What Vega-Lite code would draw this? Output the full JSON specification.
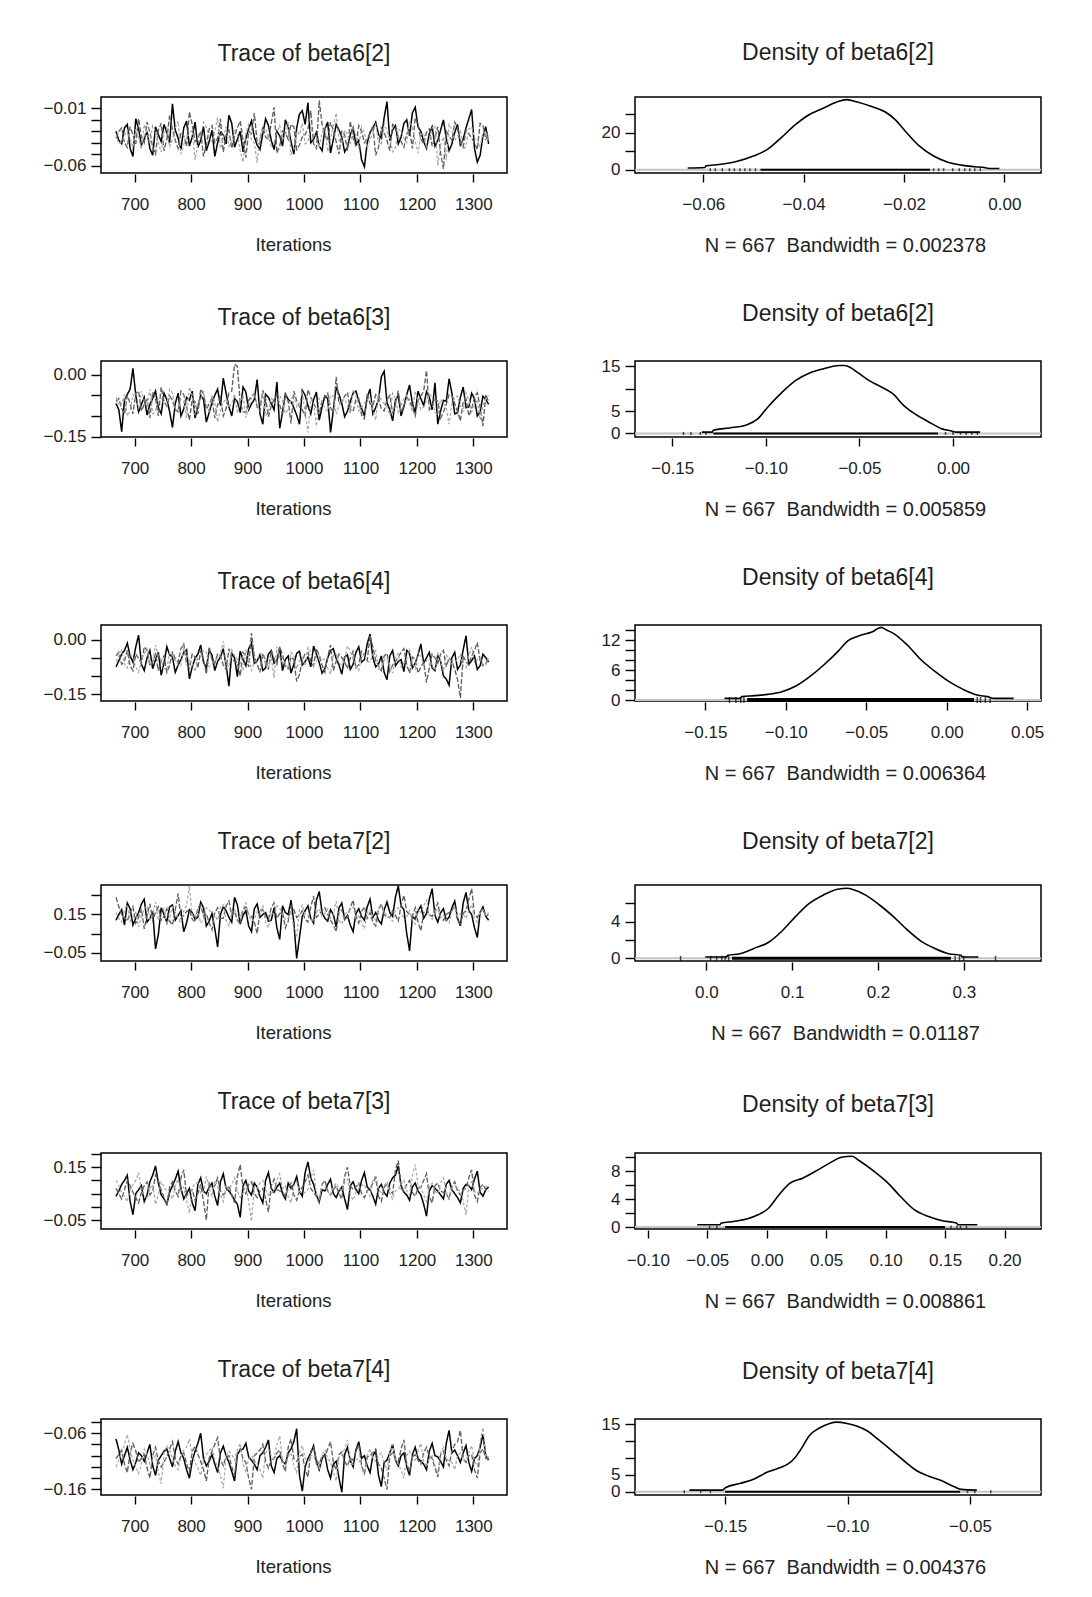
{"$schema":"https://vega.github.io/schema/vega-lite/v6.json","padding":{"left":0,"top":41,"right":0,"bottom":0},"background":"#ffffff",
"config":{"view":{"stroke":"#000000","strokeWidth":1.5},"title":{"font":"Liberation Sans","fontSize":23,"fontWeight":"normal","color":"#1e1e1e","anchor":"middle","frame":"group","offset":31,"baseline":"bottom"},
"axis":{"domain":false,"grid":false,"tickColor":"#000000","tickWidth":1.4,"labelFont":"Liberation Sans","labelFontSize":17,"labelColor":"#222222","titleFont":"Liberation Sans","titleFontSize":18.5,"titleFontWeight":"normal","titleColor":"#222222","labelOverlap":false,"labelFlush":false},
"axisX":{"tickSize":8,"offset":1,"labelPadding":14,"titlePadding":23},"axisY":{"tickSize":10,"labelPadding":5,"labelBaseline":"middle"}},
"datasets":{
"t1":[{"i":667,"a":-0.030,"b":-0.036,"c":-0.033},{"i":677,"a":-0.041,"b":-0.027,"c":-0.039},{"i":687,"a":-0.024,"b":-0.044,"c":-0.029},{"i":697,"a":-0.052,"b":-0.033,"c":-0.044},{"i":707,"a":-0.028,"b":-0.019,"c":-0.035},{"i":717,"a":-0.037,"b":-0.040,"c":-0.024},{"i":727,"a":-0.045,"b":-0.031,"c":-0.041},{"i":737,"a":-0.026,"b":-0.050,"c":-0.030},{"i":747,"a":-0.039,"b":-0.023,"c":-0.048},{"i":757,"a":-0.031,"b":-0.037,"c":-0.027},{"i":767,"a":-0.006,"b":-0.028,"c":-0.037},{"i":777,"a":-0.036,"b":-0.045,"c":-0.021},{"i":787,"a":-0.027,"b":-0.034,"c":-0.042},{"i":797,"a":-0.043,"b":-0.013,"c":-0.032},{"i":807,"a":-0.022,"b":-0.039,"c":-0.055},{"i":817,"a":-0.038,"b":-0.030,"c":-0.034},{"i":827,"a":-0.047,"b":-0.042,"c":-0.026},{"i":837,"a":-0.029,"b":-0.025,"c":-0.039},{"i":847,"a":-0.040,"b":-0.036,"c":-0.018},{"i":857,"a":-0.033,"b":-0.048,"c":-0.036},{"i":867,"a":-0.016,"b":-0.029,"c":-0.043},{"i":877,"a":-0.044,"b":-0.034,"c":-0.028},{"i":887,"a":-0.030,"b":-0.021,"c":-0.047},{"i":897,"a":-0.036,"b":-0.053,"c":-0.031},{"i":907,"a":-0.021,"b":-0.032,"c":-0.038},{"i":917,"a":-0.042,"b":-0.040,"c":-0.058},{"i":927,"a":-0.032,"b":-0.026,"c":-0.029},{"i":937,"a":-0.025,"b":-0.037,"c":-0.036},{"i":947,"a":-0.046,"b":-0.009,"c":-0.041},{"i":957,"a":-0.034,"b":-0.043,"c":-0.025},{"i":967,"a":-0.020,"b":-0.031,"c":-0.034},{"i":977,"a":-0.039,"b":-0.024,"c":-0.050},{"i":987,"a":-0.027,"b":-0.046,"c":-0.030},{"i":997,"a":-0.012,"b":-0.035,"c":-0.023},{"i":1007,"a":-0.005,"b":-0.028,"c":-0.039},{"i":1017,"a":-0.037,"b":-0.041,"c":-0.032},{"i":1027,"a":-0.043,"b":-0.003,"c":-0.044},{"i":1037,"a":-0.028,"b":-0.033,"c":-0.027},{"i":1047,"a":-0.049,"b":-0.022,"c":-0.036},{"i":1057,"a":-0.024,"b":-0.039,"c":-0.014},{"i":1067,"a":-0.035,"b":-0.030,"c":-0.040},{"i":1077,"a":-0.044,"b":-0.047,"c":-0.033},{"i":1087,"a":-0.027,"b":-0.036,"c":-0.026},{"i":1097,"a":-0.038,"b":-0.025,"c":-0.045},{"i":1107,"a":-0.061,"b":-0.040,"c":-0.031},{"i":1117,"a":-0.031,"b":-0.032,"c":-0.037},{"i":1127,"a":-0.022,"b":-0.051,"c":-0.023},{"i":1137,"a":-0.036,"b":-0.027,"c":-0.042},{"i":1147,"a":-0.004,"b":-0.038,"c":-0.030},{"i":1157,"a":-0.029,"b":-0.024,"c":-0.048},{"i":1167,"a":-0.041,"b":-0.035,"c":-0.028},{"i":1177,"a":-0.023,"b":-0.044,"c":-0.036},{"i":1187,"a":-0.034,"b":-0.029,"c":-0.021},{"i":1197,"a":-0.009,"b":-0.018,"c":-0.039},{"i":1207,"a":-0.030,"b":-0.037,"c":-0.033},{"i":1217,"a":-0.045,"b":-0.031,"c":-0.045},{"i":1227,"a":-0.026,"b":-0.043,"c":-0.027},{"i":1237,"a":-0.038,"b":-0.026,"c":-0.060},{"i":1247,"a":-0.020,"b":-0.063,"c":-0.035},{"i":1257,"a":-0.047,"b":-0.034,"c":-0.024},{"i":1267,"a":-0.031,"b":-0.022,"c":-0.038},{"i":1277,"a":-0.042,"b":-0.040,"c":-0.030},{"i":1287,"a":-0.027,"b":-0.029,"c":-0.043},{"i":1297,"a":-0.011,"b":-0.036,"c":-0.026},{"i":1307,"a":-0.057,"b":-0.046,"c":-0.037},{"i":1317,"a":-0.034,"b":-0.025,"c":-0.032},{"i":1327,"a":-0.041,"b":-0.033,"c":-0.040},
{"i":672,"a":-0.038,"b":-0.030,"c":-0.041},{"i":682,"a":-0.027,"b":-0.040,"c":-0.034},{"i":692,"a":-0.045,"b":-0.026,"c":-0.037},{"i":702,"a":-0.019,"b":-0.041,"c":-0.028},{"i":712,"a":-0.042,"b":-0.035,"c":-0.046},{"i":722,"a":-0.030,"b":-0.022,"c":-0.031},{"i":732,"a":-0.051,"b":-0.044,"c":-0.025},{"i":742,"a":-0.033,"b":-0.029,"c":-0.040},{"i":752,"a":-0.024,"b":-0.047,"c":-0.033},{"i":762,"a":-0.040,"b":-0.016,"c":-0.044},{"i":772,"a":-0.029,"b":-0.038,"c":-0.027},{"i":782,"a":-0.046,"b":-0.031,"c":-0.050},{"i":792,"a":-0.021,"b":-0.043,"c":-0.035},{"i":802,"a":-0.035,"b":-0.024,"c":-0.029},{"i":812,"a":-0.044,"b":-0.036,"c":-0.041},{"i":822,"a":-0.026,"b":-0.052,"c":-0.022},{"i":832,"a":-0.039,"b":-0.028,"c":-0.036},{"i":842,"a":-0.052,"b":-0.040,"c":-0.030},{"i":852,"a":-0.031,"b":-0.019,"c":-0.045},{"i":862,"a":-0.041,"b":-0.033,"c":-0.026},{"i":872,"a":-0.023,"b":-0.045,"c":-0.039},{"i":882,"a":-0.037,"b":-0.027,"c":-0.032},{"i":892,"a":-0.048,"b":-0.038,"c":-0.057},{"i":902,"a":-0.028,"b":-0.030,"c":-0.024},{"i":912,"a":-0.035,"b":-0.014,"c":-0.040},{"i":922,"a":-0.046,"b":-0.041,"c":-0.034},{"i":932,"a":-0.019,"b":-0.035,"c":-0.028},{"i":942,"a":-0.038,"b":-0.023,"c":-0.043},{"i":952,"a":-0.030,"b":-0.049,"c":-0.031},{"i":962,"a":-0.043,"b":-0.030,"c":-0.037},{"i":972,"a":-0.026,"b":-0.037,"c":-0.022},{"i":982,"a":-0.050,"b":-0.026,"c":-0.046},{"i":992,"a":-0.015,"b":-0.042,"c":-0.033},{"i":1002,"a":-0.024,"b":-0.033,"c":-0.041},{"i":1012,"a":-0.040,"b":-0.012,"c":-0.027},{"i":1022,"a":-0.031,"b":-0.045,"c":-0.036},{"i":1032,"a":-0.047,"b":-0.024,"c":-0.031},{"i":1042,"a":-0.022,"b":-0.038,"c":-0.048},{"i":1052,"a":-0.037,"b":-0.029,"c":-0.025},{"i":1062,"a":-0.029,"b":-0.050,"c":-0.038},{"i":1072,"a":-0.048,"b":-0.033,"c":-0.029},{"i":1082,"a":-0.033,"b":-0.021,"c":-0.042},{"i":1092,"a":-0.042,"b":-0.043,"c":-0.034},{"i":1102,"a":-0.055,"b":-0.030,"c":-0.026},{"i":1112,"a":-0.040,"b":-0.037,"c":-0.045},{"i":1122,"a":-0.027,"b":-0.025,"c":-0.032},{"i":1132,"a":-0.033,"b":-0.044,"c":-0.039},{"i":1142,"a":-0.018,"b":-0.031,"c":-0.023},{"i":1152,"a":-0.038,"b":-0.047,"c":-0.036},{"i":1162,"a":-0.025,"b":-0.026,"c":-0.044},{"i":1172,"a":-0.035,"b":-0.039,"c":-0.030},{"i":1182,"a":-0.020,"b":-0.032,"c":-0.040},{"i":1192,"a":-0.014,"b":-0.045,"c":-0.027},{"i":1202,"a":-0.026,"b":-0.024,"c":-0.049},{"i":1212,"a":-0.039,"b":-0.041,"c":-0.031},{"i":1222,"a":-0.032,"b":-0.028,"c":-0.038},{"i":1232,"a":-0.043,"b":-0.036,"c":-0.025},{"i":1242,"a":-0.029,"b":-0.049,"c":-0.042},{"i":1252,"a":-0.036,"b":-0.030,"c":-0.055},{"i":1262,"a":-0.041,"b":-0.038,"c":-0.029},{"i":1272,"a":-0.024,"b":-0.027,"c":-0.034},{"i":1282,"a":-0.037,"b":-0.044,"c":-0.046},{"i":1292,"a":-0.019,"b":-0.032,"c":-0.028},{"i":1302,"a":-0.045,"b":-0.040,"c":-0.036},{"i":1312,"a":-0.051,"b":-0.023,"c":-0.043},{"i":1322,"a":-0.026,"b":-0.037,"c":-0.030}],
"t2":[{"i":667,"a":-0.070,"b":-0.065,"c":-0.055},{"i":677,"a":-0.138,"b":-0.082,"c":-0.070},{"i":687,"a":-0.048,"b":-0.050,"c":-0.100},{"i":697,"a":0.015,"b":-0.095,"c":-0.048},{"i":707,"a":-0.090,"b":-0.040,"c":-0.080},{"i":717,"a":-0.055,"b":-0.072,"c":-0.062},{"i":727,"a":-0.072,"b":-0.105,"c":-0.036},{"i":737,"a":-0.040,"b":-0.058,"c":-0.090},{"i":747,"a":-0.095,"b":-0.030,"c":-0.058},{"i":757,"a":-0.060,"b":-0.076,"c":-0.074},{"i":767,"a":-0.128,"b":-0.062,"c":-0.045},{"i":777,"a":-0.045,"b":-0.090,"c":-0.086},{"i":787,"a":-0.083,"b":-0.048,"c":-0.065},{"i":797,"a":-0.062,"b":-0.110,"c":-0.030},{"i":807,"a":-0.105,"b":-0.066,"c":-0.098},{"i":817,"a":-0.050,"b":-0.035,"c":-0.060},{"i":827,"a":-0.115,"b":-0.084,"c":-0.072},{"i":837,"a":-0.068,"b":-0.057,"c":-0.052},{"i":847,"a":-0.035,"b":-0.073,"c":-0.115},{"i":857,"a":-0.009,"b":-0.100,"c":-0.068},{"i":867,"a":-0.078,"b":-0.044,"c":-0.080},{"i":877,"a":-0.058,"b":0.025,"c":-0.047},{"i":887,"a":-0.092,"b":-0.068,"c":-0.063},{"i":897,"a":-0.042,"b":-0.091,"c":-0.104},{"i":907,"a":-0.071,"b":-0.053,"c":-0.056},{"i":917,"a":-0.012,"b":-0.079,"c":-0.075},{"i":927,"a":-0.120,"b":-0.038,"c":-0.042},{"i":937,"a":-0.055,"b":-0.102,"c":-0.088},{"i":947,"a":-0.085,"b":-0.061,"c":-0.066},{"i":957,"a":-0.130,"b":-0.074,"c":-0.051},{"i":967,"a":-0.047,"b":-0.047,"c":-0.094},{"i":977,"a":-0.066,"b":-0.118,"c":-0.060},{"i":987,"a":-0.098,"b":-0.063,"c":-0.078},{"i":997,"a":-0.038,"b":-0.085,"c":-0.040},{"i":1007,"a":-0.075,"b":-0.036,"c":-0.140},{"i":1017,"a":-0.060,"b":-0.070,"c":-0.070},{"i":1027,"a":-0.110,"b":-0.095,"c":-0.057},{"i":1037,"a":-0.052,"b":-0.054,"c":-0.082},{"i":1047,"a":-0.140,"b":-0.080,"c":-0.049},{"i":1057,"a":-0.030,"b":-0.005,"c":-0.096},{"i":1067,"a":-0.070,"b":-0.066,"c":-0.062},{"i":1077,"a":-0.088,"b":-0.043,"c":-0.075},{"i":1087,"a":-0.045,"b":-0.089,"c":-0.036},{"i":1097,"a":-0.063,"b":-0.058,"c":-0.088},{"i":1107,"a":-0.100,"b":-0.107,"c":-0.068},{"i":1117,"a":-0.035,"b":-0.071,"c":-0.054},{"i":1127,"a":-0.080,"b":-0.049,"c":-0.110},{"i":1137,"a":-0.005,"b":-0.083,"c":-0.061},{"i":1147,"a":-0.068,"b":-0.060,"c":-0.079},{"i":1157,"a":-0.112,"b":-0.094,"c":-0.045},{"i":1167,"a":-0.050,"b":-0.039,"c":-0.092},{"i":1177,"a":-0.077,"b":-0.075,"c":-0.058},{"i":1187,"a":-0.025,"b":-0.062,"c":-0.071},{"i":1197,"a":-0.092,"b":-0.100,"c":-0.040},{"i":1207,"a":-0.058,"b":-0.052,"c":-0.084},{"i":1217,"a":-0.041,"b":0.010,"c":-0.063},{"i":1227,"a":-0.085,"b":-0.078,"c":-0.052},{"i":1237,"a":-0.120,"b":-0.064,"c":-0.098},{"i":1247,"a":-0.062,"b":-0.090,"c":-0.069},{"i":1257,"a":-0.010,"b":-0.048,"c":-0.120},{"i":1267,"a":-0.095,"b":-0.070,"c":-0.057},{"i":1277,"a":-0.055,"b":-0.112,"c":-0.076},{"i":1287,"a":-0.080,"b":-0.058,"c":-0.044},{"i":1297,"a":-0.045,"b":-0.082,"c":-0.090},{"i":1307,"a":-0.100,"b":-0.044,"c":-0.061},{"i":1317,"a":-0.052,"b":-0.125,"c":-0.074},{"i":1327,"a":-0.072,"b":-0.066,"c":-0.050},
{"i":672,"a":-0.085,"b":-0.058,"c":-0.075},{"i":682,"a":-0.062,"b":-0.095,"c":-0.048},{"i":692,"a":-0.035,"b":-0.070,"c":-0.088},{"i":702,"a":-0.050,"b":-0.045,"c":-0.062},{"i":712,"a":-0.072,"b":-0.088,"c":-0.040},{"i":722,"a":-0.098,"b":-0.060,"c":-0.078},{"i":732,"a":-0.058,"b":-0.042,"c":-0.095},{"i":742,"a":-0.080,"b":-0.100,"c":-0.055},{"i":752,"a":-0.045,"b":-0.065,"c":-0.070},{"i":762,"a":-0.090,"b":-0.052,"c":-0.035},{"i":772,"a":-0.070,"b":-0.085,"c":-0.082},{"i":782,"a":-0.100,"b":-0.040,"c":-0.060},{"i":792,"a":-0.055,"b":-0.078,"c":-0.105},{"i":802,"a":-0.040,"b":-0.060,"c":-0.050},{"i":812,"a":-0.078,"b":-0.095,"c":-0.072},{"i":822,"a":-0.060,"b":-0.048,"c":-0.042},{"i":832,"a":-0.092,"b":-0.070,"c":-0.088},{"i":842,"a":-0.050,"b":-0.105,"c":-0.065},{"i":852,"a":-0.075,"b":-0.055,"c":-0.085},{"i":862,"a":-0.045,"b":-0.082,"c":-0.058},{"i":872,"a":-0.100,"b":-0.040,"c":-0.070},{"i":882,"a":-0.065,"b":0.020,"c":-0.092},{"i":892,"a":-0.030,"b":-0.090,"c":-0.052},{"i":902,"a":-0.085,"b":-0.062,"c":-0.080},{"i":912,"a":-0.060,"b":-0.045,"c":-0.045},{"i":922,"a":-0.095,"b":-0.088,"c":-0.068},{"i":932,"a":-0.048,"b":-0.058,"c":-0.100},{"i":942,"a":-0.070,"b":-0.075,"c":-0.055},{"i":952,"a":-0.018,"b":-0.048,"c":-0.075},{"i":962,"a":-0.090,"b":-0.095,"c":-0.062},{"i":972,"a":-0.060,"b":-0.065,"c":-0.085},{"i":982,"a":-0.080,"b":-0.040,"c":-0.048},{"i":992,"a":-0.120,"b":-0.078,"c":-0.070},{"i":1002,"a":-0.050,"b":-0.100,"c":-0.095},{"i":1012,"a":-0.095,"b":-0.055,"c":-0.058},{"i":1022,"a":-0.042,"b":-0.082,"c":-0.125},{"i":1032,"a":-0.078,"b":-0.062,"c":-0.066},{"i":1042,"a":-0.058,"b":-0.045,"c":-0.088},{"i":1052,"a":-0.085,"b":-0.092,"c":-0.052},{"i":1062,"a":-0.048,"b":-0.070,"c":-0.075},{"i":1072,"a":-0.102,"b":-0.052,"c":-0.060},{"i":1082,"a":-0.065,"b":-0.085,"c":-0.095},{"i":1092,"a":-0.040,"b":-0.060,"c":-0.050},{"i":1102,"a":-0.082,"b":-0.098,"c":-0.080},{"i":1112,"a":-0.055,"b":-0.045,"c":-0.062},{"i":1122,"a":-0.095,"b":-0.075,"c":-0.085},{"i":1132,"a":-0.060,"b":-0.058,"c":-0.045},{"i":1142,"a":0.008,"b":-0.088,"c":-0.070},{"i":1152,"a":-0.085,"b":-0.050,"c":-0.098},{"i":1162,"a":-0.062,"b":-0.072,"c":-0.058},{"i":1172,"a":-0.100,"b":-0.092,"c":-0.075},{"i":1182,"a":-0.048,"b":-0.055,"c":-0.050},{"i":1192,"a":-0.070,"b":-0.080,"c":-0.088},{"i":1202,"a":-0.040,"b":-0.062,"c":-0.062},{"i":1212,"a":-0.075,"b":-0.040,"c":-0.078},{"i":1222,"a":-0.055,"b":-0.085,"c":-0.048},{"i":1232,"a":-0.020,"b":-0.060,"c":-0.092},{"i":1242,"a":-0.088,"b":-0.105,"c":-0.060},{"i":1252,"a":-0.065,"b":-0.072,"c":-0.082},{"i":1262,"a":-0.045,"b":-0.050,"c":-0.070},{"i":1272,"a":-0.092,"b":-0.090,"c":-0.052},{"i":1282,"a":-0.030,"b":-0.065,"c":-0.088},{"i":1292,"a":-0.078,"b":-0.100,"c":-0.062},{"i":1302,"a":-0.058,"b":-0.055,"c":-0.075},{"i":1312,"a":-0.090,"b":-0.078,"c":-0.110},{"i":1322,"a":-0.060,"b":-0.048,"c":-0.058}],
"t3":[{"i":667,"a":-0.075,"b":-0.045,"c":-0.060},{"i":677,"a":-0.040,"b":-0.068,"c":-0.030},{"i":687,"a":-0.010,"b":-0.030,"c":-0.078},{"i":697,"a":-0.062,"b":-0.085,"c":-0.050},{"i":707,"a":0.012,"b":-0.052,"c":-0.090},{"i":717,"a":-0.085,"b":-0.020,"c":-0.038},{"i":727,"a":-0.030,"b":-0.072,"c":-0.065},{"i":737,"a":-0.055,"b":-0.040,"c":-0.015},{"i":747,"a":-0.098,"b":-0.058,"c":-0.055},{"i":757,"a":-0.020,"b":-0.090,"c":-0.082},{"i":767,"a":-0.048,"b":-0.035,"c":-0.042},{"i":777,"a":-0.070,"b":-0.062,"c":-0.070},{"i":787,"a":-0.035,"b":-0.012,"c":-0.025},{"i":797,"a":-0.108,"b":-0.078,"c":-0.058},{"i":807,"a":-0.052,"b":-0.048,"c":-0.088},{"i":817,"a":-0.015,"b":-0.030,"c":-0.048},{"i":827,"a":-0.078,"b":-0.095,"c":-0.035},{"i":837,"a":-0.042,"b":-0.055,"c":-0.068},{"i":847,"a":-0.060,"b":-0.040,"c":-0.052},{"i":857,"a":-0.025,"b":-0.070,"c":-0.005},{"i":867,"a":-0.128,"b":-0.025,"c":-0.075},{"i":877,"a":-0.050,"b":-0.060,"c":-0.045},{"i":887,"a":-0.032,"b":-0.100,"c":-0.062},{"i":897,"a":-0.072,"b":-0.045,"c":-0.030},{"i":907,"a":-0.010,"b":0.018,"c":-0.085},{"i":917,"a":-0.058,"b":-0.068,"c":-0.055},{"i":927,"a":-0.085,"b":-0.038,"c":-0.040},{"i":937,"a":-0.040,"b":-0.082,"c":-0.072},{"i":947,"a":-0.065,"b":-0.052,"c":-0.105},{"i":957,"a":-0.022,"b":-0.020,"c":-0.048},{"i":967,"a":-0.055,"b":-0.075,"c":-0.062},{"i":977,"a":-0.092,"b":-0.048,"c":-0.035},{"i":987,"a":-0.038,"b":-0.115,"c":-0.080},{"i":997,"a":-0.070,"b":-0.058,"c":-0.050},{"i":1007,"a":-0.048,"b":-0.035,"c":-0.022},{"i":1017,"a":-0.018,"b":-0.072,"c":-0.068},{"i":1027,"a":-0.063,"b":-0.044,"c":-0.045},{"i":1037,"a":-0.080,"b":-0.090,"c":-0.058},{"i":1047,"a":-0.030,"b":-0.015,"c":-0.095},{"i":1057,"a":-0.052,"b":-0.060,"c":-0.040},{"i":1067,"a":-0.095,"b":-0.050,"c":-0.070},{"i":1077,"a":-0.042,"b":-0.080,"c":-0.018},{"i":1087,"a":-0.068,"b":-0.032,"c":-0.055},{"i":1097,"a":-0.020,"b":-0.068,"c":-0.085},{"i":1107,"a":-0.055,"b":-0.042,"c":-0.042},{"i":1117,"a":0.015,"b":0.012,"c":-0.062},{"i":1127,"a":-0.075,"b":-0.058,"c":-0.030},{"i":1137,"a":-0.045,"b":-0.085,"c":-0.075},{"i":1147,"a":-0.110,"b":-0.038,"c":-0.050},{"i":1157,"a":-0.030,"b":-0.070,"c":-0.092},{"i":1167,"a":-0.060,"b":-0.048,"c":-0.038},{"i":1177,"a":-0.088,"b":-0.025,"c":-0.065},{"i":1187,"a":-0.038,"b":-0.092,"c":-0.028},{"i":1197,"a":-0.065,"b":-0.055,"c":-0.080},{"i":1207,"a":-0.012,"b":-0.075,"c":-0.045},{"i":1217,"a":-0.050,"b":-0.118,"c":-0.058},{"i":1227,"a":-0.078,"b":-0.040,"c":-0.072},{"i":1237,"a":-0.042,"b":-0.065,"c":-0.035},{"i":1247,"a":-0.100,"b":-0.030,"c":-0.088},{"i":1257,"a":-0.125,"b":-0.050,"c":-0.052},{"i":1267,"a":-0.035,"b":-0.082,"c":-0.062},{"i":1277,"a":-0.070,"b":-0.160,"c":-0.040},{"i":1287,"a":0.010,"b":-0.062,"c":-0.078},{"i":1297,"a":-0.058,"b":-0.045,"c":-0.020},{"i":1307,"a":-0.082,"b":-0.008,"c":-0.055},{"i":1317,"a":-0.040,"b":-0.072,"c":-0.068},{"i":1327,"a":-0.062,"b":-0.052,"c":-0.045},
{"i":672,"a":-0.058,"b":-0.035,"c":-0.045},{"i":682,"a":-0.030,"b":-0.058,"c":-0.068},{"i":692,"a":-0.045,"b":-0.072,"c":-0.040},{"i":702,"a":-0.020,"b":-0.040,"c":-0.075},{"i":712,"a":-0.068,"b":-0.065,"c":-0.055},{"i":722,"a":-0.050,"b":-0.030,"c":-0.025},{"i":732,"a":-0.080,"b":-0.060,"c":-0.062},{"i":742,"a":-0.035,"b":-0.085,"c":-0.045},{"i":752,"a":-0.065,"b":-0.045,"c":-0.080},{"i":762,"a":-0.042,"b":-0.070,"c":-0.035},{"i":772,"a":-0.090,"b":-0.052,"c":-0.058},{"i":782,"a":-0.055,"b":-0.025,"c":-0.072},{"i":792,"a":-0.028,"b":-0.068,"c":-0.040},{"i":802,"a":-0.075,"b":-0.040,"c":-0.065},{"i":812,"a":-0.040,"b":-0.078,"c":-0.050},{"i":822,"a":-0.062,"b":-0.055,"c":-0.030},{"i":832,"a":-0.030,"b":-0.020,"c":-0.075},{"i":842,"a":-0.085,"b":-0.065,"c":-0.058},{"i":852,"a":-0.048,"b":-0.045,"c":-0.040},{"i":862,"a":-0.070,"b":-0.082,"c":-0.068},{"i":872,"a":-0.038,"b":-0.050,"c":-0.028},{"i":882,"a":-0.102,"b":-0.062,"c":-0.055},{"i":892,"a":-0.055,"b":-0.035,"c":-0.085},{"i":902,"a":-0.025,"b":-0.075,"c":-0.048},{"i":912,"a":-0.065,"b":-0.048,"c":-0.062},{"i":922,"a":-0.042,"b":-0.090,"c":-0.038},{"i":932,"a":-0.078,"b":-0.058,"c":-0.070},{"i":942,"a":-0.030,"b":-0.030,"c":-0.052},{"i":952,"a":-0.058,"b":-0.068,"c":-0.020},{"i":962,"a":-0.085,"b":-0.042,"c":-0.065},{"i":972,"a":-0.045,"b":-0.080,"c":-0.080},{"i":982,"a":-0.068,"b":-0.055,"c":-0.045},{"i":992,"a":-0.032,"b":-0.095,"c":-0.058},{"i":1002,"a":-0.060,"b":-0.038,"c":-0.072},{"i":1012,"a":-0.075,"b":-0.060,"c":-0.035},{"i":1022,"a":-0.040,"b":-0.025,"c":-0.062},{"i":1032,"a":-0.092,"b":-0.070,"c":-0.050},{"i":1042,"a":-0.050,"b":-0.048,"c":-0.078},{"i":1052,"a":-0.025,"b":-0.085,"c":-0.042},{"i":1062,"a":-0.070,"b":-0.040,"c":-0.065},{"i":1072,"a":-0.048,"b":-0.062,"c":-0.055},{"i":1082,"a":-0.082,"b":-0.050,"c":-0.030},{"i":1092,"a":-0.035,"b":-0.078,"c":-0.075},{"i":1102,"a":-0.062,"b":-0.032,"c":-0.048},{"i":1112,"a":-0.012,"b":-0.058,"c":-0.060},{"i":1122,"a":-0.050,"b":-0.020,"c":-0.040},{"i":1132,"a":-0.068,"b":-0.072,"c":-0.082},{"i":1142,"a":-0.090,"b":-0.045,"c":-0.058},{"i":1152,"a":-0.045,"b":-0.088,"c":-0.068},{"i":1162,"a":-0.072,"b":-0.060,"c":-0.045},{"i":1172,"a":-0.055,"b":-0.035,"c":-0.075},{"i":1182,"a":-0.030,"b":-0.070,"c":-0.052},{"i":1192,"a":-0.078,"b":-0.048,"c":-0.062},{"i":1202,"a":-0.042,"b":-0.092,"c":-0.035},{"i":1212,"a":-0.065,"b":-0.062,"c":-0.070},{"i":1222,"a":-0.035,"b":-0.078,"c":-0.050},{"i":1232,"a":-0.085,"b":-0.050,"c":-0.085},{"i":1242,"a":-0.060,"b":-0.040,"c":-0.058},{"i":1252,"a":-0.108,"b":-0.075,"c":-0.042},{"i":1262,"a":-0.050,"b":-0.060,"c":-0.068},{"i":1272,"a":-0.082,"b":-0.110,"c":-0.055},{"i":1282,"a":-0.028,"b":-0.045,"c":-0.072},{"i":1292,"a":-0.068,"b":-0.070,"c":-0.045},{"i":1302,"a":-0.045,"b":-0.030,"c":-0.062},{"i":1312,"a":-0.072,"b":-0.058,"c":-0.050},{"i":1322,"a":-0.050,"b":-0.065,"c":-0.070}],
"t4":[{"i":667,"a":0.120,"b":0.240,"c":0.160},{"i":677,"a":0.175,"b":0.150,"c":0.110},{"i":687,"a":0.210,"b":0.115,"c":0.200},{"i":697,"a":0.095,"b":0.190,"c":0.140},{"i":707,"a":0.160,"b":0.135,"c":0.085},{"i":717,"a":0.230,"b":0.075,"c":0.180},{"i":727,"a":0.130,"b":0.205,"c":0.125},{"i":737,"a":-0.030,"b":0.160,"c":0.215},{"i":747,"a":0.185,"b":0.120,"c":0.150},{"i":757,"a":0.110,"b":0.180,"c":0.100},{"i":767,"a":0.200,"b":0.095,"c":0.190},{"i":777,"a":0.145,"b":0.260,"c":0.130},{"i":787,"a":0.060,"b":0.145,"c":0.170},{"i":797,"a":0.175,"b":0.175,"c":0.300},{"i":807,"a":0.125,"b":0.110,"c":0.145},{"i":817,"a":0.215,"b":0.200,"c":0.105},{"i":827,"a":0.090,"b":0.155,"c":0.185},{"i":837,"a":0.155,"b":0.070,"c":0.160},{"i":847,"a":-0.020,"b":0.185,"c":0.120},{"i":857,"a":0.190,"b":0.130,"c":0.200},{"i":867,"a":0.135,"b":0.220,"c":0.090},{"i":877,"a":0.240,"b":0.165,"c":0.175},{"i":887,"a":0.100,"b":0.100,"c":0.140},{"i":897,"a":0.170,"b":0.190,"c":0.210},{"i":907,"a":0.060,"b":0.140,"c":0.115},{"i":917,"a":0.205,"b":0.050,"c":0.165},{"i":927,"a":0.150,"b":0.175,"c":0.195},{"i":937,"a":0.115,"b":0.125,"c":0.080},{"i":947,"a":0.185,"b":0.210,"c":0.150},{"i":957,"a":0.020,"b":0.155,"c":0.185},{"i":967,"a":0.160,"b":0.080,"c":0.125},{"i":977,"a":0.225,"b":0.195,"c":0.170},{"i":987,"a":-0.080,"b":0.135,"c":0.035},{"i":997,"a":0.140,"b":0.170,"c":0.200},{"i":1007,"a":0.195,"b":0.110,"c":0.145},{"i":1017,"a":0.105,"b":0.245,"c":0.110},{"i":1027,"a":0.270,"b":0.150,"c":0.180},{"i":1037,"a":0.130,"b":0.185,"c":0.155},{"i":1047,"a":0.175,"b":0.120,"c":0.130},{"i":1057,"a":0.085,"b":0.060,"c":0.220},{"i":1067,"a":0.210,"b":0.175,"c":0.100},{"i":1077,"a":0.145,"b":0.140,"c":0.165},{"i":1087,"a":0.060,"b":0.225,"c":0.190},{"i":1097,"a":0.180,"b":0.105,"c":0.140},{"i":1107,"a":0.120,"b":0.190,"c":0.075},{"i":1117,"a":0.230,"b":0.160,"c":0.175},{"i":1127,"a":0.160,"b":0.090,"c":0.120},{"i":1137,"a":0.100,"b":0.205,"c":0.205},{"i":1147,"a":0.215,"b":0.135,"c":0.150},{"i":1157,"a":0.140,"b":0.170,"c":0.115},{"i":1167,"a":0.300,"b":0.115,"c":0.185},{"i":1177,"a":0.175,"b":0.250,"c":0.135},{"i":1187,"a":-0.040,"b":0.150,"c":0.170},{"i":1197,"a":0.125,"b":0.185,"c":0.100},{"i":1207,"a":0.195,"b":0.065,"c":0.160},{"i":1217,"a":0.155,"b":0.175,"c":0.225},{"i":1227,"a":0.285,"b":0.140,"c":0.125},{"i":1237,"a":0.110,"b":0.210,"c":0.180},{"i":1247,"a":0.180,"b":0.120,"c":0.145},{"i":1257,"a":0.135,"b":0.160,"c":0.105},{"i":1267,"a":0.220,"b":0.195,"c":0.190},{"i":1277,"a":0.090,"b":0.100,"c":0.155},{"i":1287,"a":0.265,"b":0.170,"c":0.130},{"i":1297,"a":0.150,"b":0.285,"c":0.200},{"i":1307,"a":0.030,"b":0.135,"c":0.110},{"i":1317,"a":0.190,"b":0.180,"c":0.175},{"i":1327,"a":0.120,"b":0.150,"c":0.160},
{"i":672,"a":0.150,"b":0.190,"c":0.130},{"i":682,"a":0.095,"b":0.135,"c":0.175},{"i":692,"a":0.180,"b":0.160,"c":0.115},{"i":702,"a":0.130,"b":0.105,"c":0.160},{"i":712,"a":0.205,"b":0.180,"c":0.140},{"i":722,"a":0.110,"b":0.145,"c":0.195},{"i":732,"a":0.165,"b":0.120,"c":0.150},{"i":742,"a":0.045,"b":0.190,"c":0.120},{"i":752,"a":0.150,"b":0.140,"c":0.180},{"i":762,"a":0.190,"b":0.115,"c":0.135},{"i":772,"a":0.120,"b":0.175,"c":0.160},{"i":782,"a":0.170,"b":0.130,"c":0.105},{"i":792,"a":0.105,"b":0.165,"c":0.195},{"i":802,"a":0.160,"b":0.125,"c":0.140},{"i":812,"a":0.135,"b":0.185,"c":0.170},{"i":822,"a":0.185,"b":0.140,"c":0.125},{"i":832,"a":0.115,"b":0.105,"c":0.175},{"i":842,"a":0.075,"b":0.160,"c":0.145},{"i":852,"a":0.150,"b":0.130,"c":0.190},{"i":862,"a":0.170,"b":0.195,"c":0.120},{"i":872,"a":0.110,"b":0.145,"c":0.160},{"i":882,"a":0.200,"b":0.120,"c":0.135},{"i":892,"a":0.145,"b":0.175,"c":0.180},{"i":902,"a":0.090,"b":0.150,"c":0.150},{"i":912,"a":0.180,"b":0.110,"c":0.125},{"i":922,"a":0.135,"b":0.165,"c":0.170},{"i":932,"a":0.160,"b":0.140,"c":0.110},{"i":942,"a":0.120,"b":0.185,"c":0.160},{"i":952,"a":0.080,"b":0.130,"c":0.195},{"i":962,"a":0.195,"b":0.160,"c":0.145},{"i":972,"a":0.150,"b":0.115,"c":0.130},{"i":982,"a":0.110,"b":0.175,"c":0.080},{"i":992,"a":0.030,"b":0.145,"c":0.175},{"i":1002,"a":0.170,"b":0.125,"c":0.150},{"i":1012,"a":0.130,"b":0.190,"c":0.125},{"i":1022,"a":0.225,"b":0.135,"c":0.165},{"i":1032,"a":0.160,"b":0.170,"c":0.140},{"i":1042,"a":0.115,"b":0.150,"c":0.180},{"i":1052,"a":0.150,"b":0.095,"c":0.150},{"i":1062,"a":0.185,"b":0.160,"c":0.120},{"i":1072,"a":0.125,"b":0.120,"c":0.145},{"i":1082,"a":0.095,"b":0.185,"c":0.175},{"i":1092,"a":0.155,"b":0.140,"c":0.130},{"i":1102,"a":0.140,"b":0.165,"c":0.110},{"i":1112,"a":0.190,"b":0.130,"c":0.160},{"i":1122,"a":0.135,"b":0.110,"c":0.140},{"i":1132,"a":0.120,"b":0.175,"c":0.185},{"i":1142,"a":0.175,"b":0.150,"c":0.155},{"i":1152,"a":0.160,"b":0.135,"c":0.130},{"i":1162,"a":0.240,"b":0.145,"c":0.170},{"i":1172,"a":0.195,"b":0.200,"c":0.150},{"i":1182,"a":0.050,"b":0.165,"c":0.140},{"i":1192,"a":0.140,"b":0.140,"c":0.125},{"i":1202,"a":0.170,"b":0.110,"c":0.180},{"i":1212,"a":0.130,"b":0.160,"c":0.195},{"i":1222,"a":0.230,"b":0.150,"c":0.145},{"i":1232,"a":0.145,"b":0.175,"c":0.160},{"i":1242,"a":0.160,"b":0.135,"c":0.135},{"i":1252,"a":0.120,"b":0.150,"c":0.125},{"i":1262,"a":0.185,"b":0.170,"c":0.170},{"i":1272,"a":0.130,"b":0.120,"c":0.140},{"i":1282,"a":0.210,"b":0.155,"c":0.150},{"i":1292,"a":0.170,"b":0.230,"c":0.175},{"i":1302,"a":0.080,"b":0.150,"c":0.130},{"i":1312,"a":0.160,"b":0.165,"c":0.160},{"i":1322,"a":0.140,"b":0.140,"c":0.145}],
"t5":[{"i":667,"a":0.040,"b":0.070,"c":0.100},{"i":677,"a":0.085,"b":0.030,"c":0.055},{"i":687,"a":0.120,"b":0.100,"c":0.020},{"i":697,"a":-0.030,"b":0.055,"c":0.085},{"i":707,"a":0.065,"b":0.015,"c":0.130},{"i":717,"a":0.020,"b":0.080,"c":0.045},{"i":727,"a":0.095,"b":0.045,"c":0.070},{"i":737,"a":0.155,"b":0.120,"c":0.010},{"i":747,"a":0.045,"b":0.065,"c":0.095},{"i":757,"a":0.010,"b":0.005,"c":0.060},{"i":767,"a":0.080,"b":0.095,"c":0.030},{"i":777,"a":0.135,"b":0.040,"c":0.105},{"i":787,"a":0.030,"b":0.140,"c":0.075},{"i":797,"a":0.070,"b":0.060,"c":-0.025},{"i":807,"a":-0.015,"b":0.025,"c":0.090},{"i":817,"a":0.110,"b":0.085,"c":0.050},{"i":827,"a":0.050,"b":-0.050,"c":0.115},{"i":837,"a":0.090,"b":0.070,"c":0.040},{"i":847,"a":0.005,"b":0.110,"c":0.080},{"i":857,"a":0.125,"b":0.045,"c":0.020},{"i":867,"a":0.060,"b":0.080,"c":0.065},{"i":877,"a":0.025,"b":0.015,"c":0.110},{"i":887,"a":-0.040,"b":0.160,"c":0.035},{"i":897,"a":0.100,"b":0.050,"c":0.085},{"i":907,"a":0.045,"b":0.095,"c":-0.055},{"i":917,"a":0.075,"b":0.035,"c":0.070},{"i":927,"a":0.015,"b":0.070,"c":0.100},{"i":937,"a":0.130,"b":-0.020,"c":0.045},{"i":947,"a":0.055,"b":0.105,"c":0.060},{"i":957,"a":0.090,"b":0.060,"c":0.125},{"i":967,"a":0.030,"b":0.040,"c":0.080},{"i":977,"a":0.070,"b":0.090,"c":0.015},{"i":987,"a":0.115,"b":0.025,"c":0.095},{"i":997,"a":0.040,"b":0.075,"c":0.050},{"i":1007,"a":0.170,"b":0.120,"c":0.065},{"i":1017,"a":0.085,"b":0.055,"c":0.140},{"i":1027,"a":0.020,"b":0.015,"c":0.030},{"i":1037,"a":0.060,"b":0.100,"c":0.075},{"i":1047,"a":0.105,"b":0.045,"c":0.045},{"i":1057,"a":0.035,"b":0.080,"c":0.090},{"i":1067,"a":0.075,"b":0.030,"c":0.060},{"i":1077,"a":-0.010,"b":0.150,"c":0.105},{"i":1087,"a":0.095,"b":0.065,"c":0.025},{"i":1097,"a":0.050,"b":0.090,"c":0.070},{"i":1107,"a":0.130,"b":0.035,"c":0.085},{"i":1117,"a":0.065,"b":0.070,"c":0.040},{"i":1127,"a":0.010,"b":0.110,"c":0.120},{"i":1137,"a":0.085,"b":0.020,"c":0.055},{"i":1147,"a":0.040,"b":0.085,"c":0.095},{"i":1157,"a":0.110,"b":0.050,"c":0.030},{"i":1167,"a":0.155,"b":0.175,"c":0.065},{"i":1177,"a":0.055,"b":0.060,"c":0.100},{"i":1187,"a":0.025,"b":0.100,"c":0.045},{"i":1197,"a":0.090,"b":0.040,"c":0.160},{"i":1207,"a":0.045,"b":0.075,"c":0.075},{"i":1217,"a":-0.035,"b":0.125,"c":0.020},{"i":1227,"a":0.080,"b":0.015,"c":0.090},{"i":1237,"a":0.060,"b":0.090,"c":0.050},{"i":1247,"a":0.030,"b":0.055,"c":0.110},{"i":1257,"a":0.100,"b":0.030,"c":0.035},{"i":1267,"a":0.050,"b":0.095,"c":0.080},{"i":1277,"a":0.015,"b":0.045,"c":0.060},{"i":1287,"a":0.085,"b":0.070,"c":-0.030},{"i":1297,"a":0.065,"b":0.140,"c":0.095},{"i":1307,"a":0.135,"b":0.020,"c":0.050},{"i":1317,"a":0.040,"b":0.085,"c":0.070},{"i":1327,"a":0.075,"b":0.060,"c":0.085},
{"i":672,"a":0.060,"b":0.050,"c":0.080},{"i":682,"a":0.100,"b":0.065,"c":0.040},{"i":692,"a":0.020,"b":0.080,"c":0.065},{"i":702,"a":0.050,"b":0.035,"c":0.100},{"i":712,"a":0.080,"b":0.055,"c":0.060},{"i":722,"a":0.045,"b":0.095,"c":0.030},{"i":732,"a":0.120,"b":0.060,"c":0.085},{"i":742,"a":0.090,"b":0.100,"c":0.045},{"i":752,"a":0.030,"b":0.035,"c":0.075},{"i":762,"a":0.055,"b":0.075,"c":0.050},{"i":772,"a":0.105,"b":0.060,"c":0.080},{"i":782,"a":0.070,"b":0.110,"c":0.060},{"i":792,"a":0.050,"b":0.040,"c":0.025},{"i":802,"a":0.015,"b":0.065,"c":0.070},{"i":812,"a":0.085,"b":0.050,"c":0.090},{"i":822,"a":0.060,"b":0.020,"c":0.055},{"i":832,"a":0.075,"b":0.090,"c":0.070},{"i":842,"a":0.040,"b":0.080,"c":0.100},{"i":852,"a":0.095,"b":0.060,"c":0.045},{"i":862,"a":0.070,"b":0.055,"c":0.080},{"i":872,"a":0.045,"b":0.045,"c":0.085},{"i":882,"a":0.010,"b":0.115,"c":0.060},{"i":892,"a":0.080,"b":0.070,"c":0.050},{"i":902,"a":0.060,"b":0.085,"c":0.020},{"i":912,"a":0.090,"b":0.050,"c":0.075},{"i":922,"a":0.040,"b":0.060,"c":0.090},{"i":932,"a":0.100,"b":0.030,"c":0.065},{"i":942,"a":0.070,"b":0.080,"c":0.050},{"i":952,"a":0.075,"b":0.065,"c":0.100},{"i":962,"a":0.050,"b":0.055,"c":0.070},{"i":972,"a":0.090,"b":0.070,"c":0.040},{"i":982,"a":0.085,"b":0.045,"c":0.080},{"i":992,"a":0.060,"b":0.060,"c":0.060},{"i":1002,"a":0.130,"b":0.095,"c":0.055},{"i":1012,"a":0.110,"b":0.070,"c":0.110},{"i":1022,"a":0.045,"b":0.040,"c":0.050},{"i":1032,"a":0.065,"b":0.085,"c":0.085},{"i":1042,"a":0.085,"b":0.060,"c":0.060},{"i":1052,"a":0.050,"b":0.065,"c":0.075},{"i":1062,"a":0.060,"b":0.050,"c":0.070},{"i":1072,"a":0.030,"b":0.115,"c":0.090},{"i":1082,"a":0.080,"b":0.080,"c":0.045},{"i":1092,"a":0.065,"b":0.075,"c":0.055},{"i":1102,"a":0.100,"b":0.050,"c":0.080},{"i":1112,"a":0.075,"b":0.060,"c":0.055},{"i":1122,"a":0.040,"b":0.090,"c":0.100},{"i":1132,"a":0.070,"b":0.040,"c":0.065},{"i":1142,"a":0.055,"b":0.075,"c":0.080},{"i":1152,"a":0.090,"b":0.065,"c":0.050},{"i":1162,"a":0.120,"b":0.140,"c":0.060},{"i":1172,"a":0.080,"b":0.070,"c":0.085},{"i":1182,"a":0.045,"b":0.085,"c":0.060},{"i":1192,"a":0.075,"b":0.055,"c":0.120},{"i":1202,"a":0.060,"b":0.070,"c":0.080},{"i":1212,"a":0.010,"b":0.100,"c":0.045},{"i":1222,"a":0.060,"b":0.040,"c":0.075},{"i":1232,"a":0.070,"b":0.080,"c":0.060},{"i":1242,"a":0.045,"b":0.060,"c":0.090},{"i":1252,"a":0.085,"b":0.050,"c":0.055},{"i":1262,"a":0.065,"b":0.080,"c":0.070},{"i":1272,"a":0.035,"b":0.060,"c":0.065},{"i":1282,"a":0.070,"b":0.065,"c":0.020},{"i":1292,"a":0.080,"b":0.110,"c":0.080},{"i":1302,"a":0.105,"b":0.045,"c":0.060},{"i":1312,"a":0.055,"b":0.075,"c":0.065},{"i":1322,"a":0.065,"b":0.065,"c":0.075}],
"t6":[{"i":667,"a":-0.070,"b":-0.105,"c":-0.120},{"i":677,"a":-0.115,"b":-0.090,"c":-0.095},{"i":687,"a":-0.085,"b":-0.130,"c":-0.062},{"i":697,"a":-0.125,"b":-0.078,"c":-0.108},{"i":707,"a":-0.095,"b":-0.112,"c":-0.132},{"i":717,"a":-0.110,"b":-0.098,"c":-0.088},{"i":727,"a":-0.080,"b":-0.140,"c":-0.115},{"i":737,"a":-0.135,"b":-0.085,"c":-0.100},{"i":747,"a":-0.100,"b":-0.120,"c":-0.150},{"i":757,"a":-0.088,"b":-0.102,"c":-0.082},{"i":767,"a":-0.120,"b":-0.075,"c":-0.105},{"i":777,"a":-0.075,"b":-0.115,"c":-0.125},{"i":787,"a":-0.105,"b":-0.095,"c":-0.090},{"i":797,"a":-0.140,"b":-0.128,"c":-0.070},{"i":807,"a":-0.092,"b":-0.083,"c":-0.112},{"i":817,"a":-0.060,"b":-0.110,"c":-0.135},{"i":827,"a":-0.118,"b":-0.145,"c":-0.098},{"i":837,"a":-0.098,"b":-0.092,"c":-0.085},{"i":847,"a":-0.130,"b":-0.068,"c":-0.120},{"i":857,"a":-0.083,"b":-0.118,"c":-0.158},{"i":867,"a":-0.112,"b":-0.100,"c":-0.092},{"i":877,"a":-0.145,"b":-0.135,"c":-0.108},{"i":887,"a":-0.090,"b":-0.088,"c":-0.078},{"i":897,"a":-0.078,"b":-0.112,"c":-0.128},{"i":907,"a":-0.108,"b":-0.160,"c":-0.100},{"i":917,"a":-0.125,"b":-0.095,"c":-0.115},{"i":927,"a":-0.095,"b":-0.080,"c":-0.140},{"i":937,"a":-0.072,"b":-0.122,"c":-0.088},{"i":947,"a":-0.130,"b":-0.105,"c":-0.105},{"i":957,"a":-0.100,"b":-0.090,"c":-0.065},{"i":967,"a":-0.115,"b":-0.128,"c":-0.118},{"i":977,"a":-0.088,"b":-0.070,"c":-0.095},{"i":987,"a":-0.052,"b":-0.110,"c":-0.130},{"i":997,"a":-0.163,"b":-0.098,"c":-0.082},{"i":1007,"a":-0.105,"b":-0.138,"c":-0.110},{"i":1017,"a":-0.082,"b":-0.085,"c":-0.100},{"i":1027,"a":-0.125,"b":-0.115,"c":-0.125},{"i":1037,"a":-0.098,"b":-0.102,"c":-0.090},{"i":1047,"a":-0.140,"b":-0.075,"c":-0.112},{"i":1057,"a":-0.110,"b":-0.125,"c":-0.145},{"i":1067,"a":-0.165,"b":-0.093,"c":-0.098},{"i":1077,"a":-0.085,"b":-0.118,"c":-0.072},{"i":1087,"a":-0.120,"b":-0.108,"c":-0.118},{"i":1097,"a":-0.075,"b":-0.080,"c":-0.105},{"i":1107,"a":-0.100,"b":-0.132,"c":-0.135},{"i":1117,"a":-0.130,"b":-0.100,"c":-0.088},{"i":1127,"a":-0.092,"b":-0.088,"c":-0.110},{"i":1137,"a":-0.155,"b":-0.122,"c":-0.095},{"i":1147,"a":-0.108,"b":-0.160,"c":-0.125},{"i":1157,"a":-0.080,"b":-0.095,"c":-0.080},{"i":1167,"a":-0.118,"b":-0.110,"c":-0.115},{"i":1177,"a":-0.095,"b":-0.072,"c":-0.140},{"i":1187,"a":-0.135,"b":-0.128,"c":-0.092},{"i":1197,"a":-0.085,"b":-0.098,"c":-0.108},{"i":1207,"a":-0.110,"b":-0.115,"c":-0.078},{"i":1217,"a":-0.125,"b":-0.085,"c":-0.120},{"i":1227,"a":-0.078,"b":-0.105,"c":-0.100},{"i":1237,"a":-0.102,"b":-0.138,"c":-0.132},{"i":1247,"a":-0.120,"b":-0.092,"c":-0.085},{"i":1257,"a":-0.055,"b":-0.118,"c":-0.110},{"i":1267,"a":-0.090,"b":-0.080,"c":-0.125},{"i":1277,"a":-0.112,"b":-0.055,"c":-0.095},{"i":1287,"a":-0.082,"b":-0.112,"c":-0.108},{"i":1297,"a":-0.128,"b":-0.098,"c":-0.082},{"i":1307,"a":-0.100,"b":-0.140,"c":-0.118},{"i":1317,"a":-0.062,"b":-0.088,"c":-0.050},{"i":1327,"a":-0.108,"b":-0.102,"c":-0.105},
{"i":672,"a":-0.090,"b":-0.098,"c":-0.108},{"i":682,"a":-0.100,"b":-0.115,"c":-0.080},{"i":692,"a":-0.108,"b":-0.095,"c":-0.088},{"i":702,"a":-0.112,"b":-0.092,"c":-0.120},{"i":712,"a":-0.100,"b":-0.105,"c":-0.115},{"i":722,"a":-0.095,"b":-0.122,"c":-0.098},{"i":732,"a":-0.118,"b":-0.100,"c":-0.108},{"i":742,"a":-0.108,"b":-0.110,"c":-0.130},{"i":752,"a":-0.092,"b":-0.112,"c":-0.095},{"i":762,"a":-0.105,"b":-0.088,"c":-0.090},{"i":772,"a":-0.092,"b":-0.105,"c":-0.118},{"i":782,"a":-0.095,"b":-0.100,"c":-0.102},{"i":792,"a":-0.125,"b":-0.115,"c":-0.085},{"i":802,"a":-0.110,"b":-0.092,"c":-0.100},{"i":812,"a":-0.078,"b":-0.098,"c":-0.122},{"i":822,"a":-0.105,"b":-0.125,"c":-0.108},{"i":832,"a":-0.110,"b":-0.105,"c":-0.092},{"i":842,"a":-0.115,"b":-0.080,"c":-0.108},{"i":852,"a":-0.095,"b":-0.108,"c":-0.135},{"i":862,"a":-0.100,"b":-0.102,"c":-0.100},{"i":872,"a":-0.128,"b":-0.120,"c":-0.098},{"i":882,"a":-0.098,"b":-0.095,"c":-0.090},{"i":892,"a":-0.088,"b":-0.105,"c":-0.115},{"i":902,"a":-0.102,"b":-0.140,"c":-0.105},{"i":912,"a":-0.115,"b":-0.100,"c":-0.108},{"i":922,"a":-0.100,"b":-0.090,"c":-0.125},{"i":932,"a":-0.085,"b":-0.110,"c":-0.095},{"i":942,"a":-0.118,"b":-0.108,"c":-0.100},{"i":952,"a":-0.105,"b":-0.095,"c":-0.080},{"i":962,"a":-0.110,"b":-0.115,"c":-0.110},{"i":972,"a":-0.095,"b":-0.085,"c":-0.102},{"i":982,"a":-0.075,"b":-0.105,"c":-0.118},{"i":992,"a":-0.135,"b":-0.102,"c":-0.095},{"i":1002,"a":-0.120,"b":-0.125,"c":-0.105},{"i":1012,"a":-0.095,"b":-0.092,"c":-0.100},{"i":1022,"a":-0.112,"b":-0.108,"c":-0.115},{"i":1032,"a":-0.105,"b":-0.100,"c":-0.098},{"i":1042,"a":-0.125,"b":-0.088,"c":-0.105},{"i":1052,"a":-0.115,"b":-0.112,"c":-0.128},{"i":1062,"a":-0.140,"b":-0.098,"c":-0.102},{"i":1072,"a":-0.098,"b":-0.110,"c":-0.088},{"i":1082,"a":-0.108,"b":-0.105,"c":-0.110},{"i":1092,"a":-0.090,"b":-0.092,"c":-0.108},{"i":1102,"a":-0.105,"b":-0.118,"c":-0.120},{"i":1112,"a":-0.118,"b":-0.102,"c":-0.098},{"i":1122,"a":-0.100,"b":-0.095,"c":-0.105},{"i":1132,"a":-0.135,"b":-0.115,"c":-0.100},{"i":1142,"a":-0.112,"b":-0.140,"c":-0.112},{"i":1152,"a":-0.095,"b":-0.100,"c":-0.095},{"i":1162,"a":-0.108,"b":-0.105,"c":-0.108},{"i":1172,"a":-0.100,"b":-0.088,"c":-0.125},{"i":1182,"a":-0.120,"b":-0.115,"c":-0.100},{"i":1192,"a":-0.098,"b":-0.102,"c":-0.105},{"i":1202,"a":-0.105,"b":-0.108,"c":-0.092},{"i":1212,"a":-0.115,"b":-0.095,"c":-0.110},{"i":1222,"a":-0.092,"b":-0.102,"c":-0.105},{"i":1232,"a":-0.100,"b":-0.122,"c":-0.118},{"i":1242,"a":-0.110,"b":-0.098,"c":-0.095},{"i":1252,"a":-0.078,"b":-0.108,"c":-0.105},{"i":1262,"a":-0.095,"b":-0.092,"c":-0.112},{"i":1272,"a":-0.100,"b":-0.075,"c":-0.100},{"i":1282,"a":-0.095,"b":-0.105,"c":-0.108},{"i":1292,"a":-0.112,"b":-0.100,"c":-0.095},{"i":1302,"a":-0.105,"b":-0.125,"c":-0.110},{"i":1312,"a":-0.085,"b":-0.095,"c":-0.075},{"i":1322,"a":-0.100,"b":-0.105,"c":-0.102}],
"d1":[{"x":-0.0631,"y":0.9},{"x":-0.0597,"y":1.2},{"x":-0.0594,"y":2.1},{"x":-0.0569,"y":2.8},{"x":-0.0534,"y":4.4},{"x":-0.05,"y":7.4},{"x":-0.0472,"y":11.0},{"x":-0.0445,"y":17.2},{"x":-0.0417,"y":24.2},{"x":-0.039,"y":29.6},{"x":-0.0362,"y":33.1},{"x":-0.0334,"y":36.6},{"x":-0.0314,"y":37.9},{"x":-0.0293,"y":36.6},{"x":-0.0266,"y":34.3},{"x":-0.0238,"y":31.3},{"x":-0.0217,"y":26.9},{"x":-0.0197,"y":20.7},{"x":-0.0169,"y":12.7},{"x":-0.0141,"y":7.4},{"x":-0.0114,"y":4.2},{"x":-0.0086,"y":2.5},{"x":-0.0059,"y":1.6},{"x":-0.0038,"y":1.1},{"x":-0.0031,"y":0.7},{"x":-0.001,"y":0.7}],
"d2":[{"x":-0.1342,"y":0.29},{"x":-0.1286,"y":0.29},{"x":-0.1281,"y":0.72},{"x":-0.1193,"y":1.23},{"x":-0.11,"y":1.96},{"x":-0.1045,"y":3.19},{"x":-0.0989,"y":5.94},{"x":-0.0914,"y":9.2},{"x":-0.084,"y":11.88},{"x":-0.0766,"y":13.55},{"x":-0.0691,"y":14.49},{"x":-0.0608,"y":15.22},{"x":-0.058,"y":15.22},{"x":-0.0543,"y":14.64},{"x":-0.0506,"y":13.55},{"x":-0.045,"y":11.88},{"x":-0.0394,"y":10.65},{"x":-0.032,"y":8.84},{"x":-0.0264,"y":6.3},{"x":-0.0208,"y":4.49},{"x":-0.0134,"y":2.68},{"x":-0.0059,"y":1.02},{"x":-0.0004,"y":0.51},{"x":0.0015,"y":0.29},{"x":0.0145,"y":0.29}],
"d3":[{"x":-0.1381,"y":0.33},{"x":-0.1284,"y":0.33},{"x":-0.1273,"y":0.67},{"x":-0.1197,"y":0.87},{"x":-0.111,"y":1.13},{"x":-0.1024,"y":1.67},{"x":-0.0937,"y":2.8},{"x":-0.0851,"y":4.67},{"x":-0.0764,"y":7.0},{"x":-0.0677,"y":9.67},{"x":-0.0613,"y":11.87},{"x":-0.0548,"y":12.8},{"x":-0.0461,"y":13.67},{"x":-0.0407,"y":14.53},{"x":-0.0374,"y":14.0},{"x":-0.0331,"y":13.33},{"x":-0.0245,"y":11.0},{"x":-0.0158,"y":8.0},{"x":-0.0071,"y":5.67},{"x":0.0015,"y":3.67},{"x":0.0102,"y":2.13},{"x":0.0188,"y":1.0},{"x":0.0253,"y":0.67},{"x":0.0297,"y":0.33},{"x":0.0416,"y":0.33}],
"d4":[{"x":-0.0012,"y":0.14},{"x":0.0231,"y":0.14},{"x":0.0251,"y":0.32},{"x":0.0393,"y":0.5},{"x":0.0555,"y":1.08},{"x":0.0717,"y":1.69},{"x":0.088,"y":2.95},{"x":0.1042,"y":4.57},{"x":0.1204,"y":6.0},{"x":0.1366,"y":6.9},{"x":0.1528,"y":7.52},{"x":0.165,"y":7.63},{"x":0.169,"y":7.55},{"x":0.1852,"y":6.9},{"x":0.2015,"y":5.83},{"x":0.2177,"y":4.57},{"x":0.2339,"y":3.13},{"x":0.2501,"y":1.87},{"x":0.2663,"y":1.08},{"x":0.2825,"y":0.5},{"x":0.2967,"y":0.32},{"x":0.2987,"y":0.14},{"x":0.317,"y":0.14}],
"d5":[{"x":-0.0585,"y":0.33},{"x":-0.0395,"y":0.33},{"x":-0.0381,"y":0.57},{"x":-0.0278,"y":0.8},{"x":-0.0161,"y":1.18},{"x":-0.0073,"y":1.75},{"x":0.0015,"y":2.69},{"x":0.0102,"y":4.58},{"x":0.019,"y":6.23},{"x":0.0307,"y":7.03},{"x":0.0424,"y":8.11},{"x":0.0542,"y":9.29},{"x":0.0629,"y":10.0},{"x":0.0717,"y":10.14},{"x":0.0776,"y":9.53},{"x":0.0893,"y":8.11},{"x":0.101,"y":6.46},{"x":0.1127,"y":4.34},{"x":0.1244,"y":2.45},{"x":0.1361,"y":1.51},{"x":0.1478,"y":0.9},{"x":0.1595,"y":0.57},{"x":0.161,"y":0.33},{"x":0.1771,"y":0.33}],
"d6":[{"x":-0.1646,"y":0.48},{"x":-0.1511,"y":0.48},{"x":-0.1497,"y":1.26},{"x":-0.1441,"y":2.42},{"x":-0.1384,"y":3.67},{"x":-0.1327,"y":5.8},{"x":-0.1271,"y":7.25},{"x":-0.1243,"y":8.21},{"x":-0.1214,"y":10.14},{"x":-0.1186,"y":13.04},{"x":-0.1158,"y":16.43},{"x":-0.1115,"y":18.84},{"x":-0.1073,"y":20.19},{"x":-0.1045,"y":20.58},{"x":-0.1002,"y":20.19},{"x":-0.096,"y":19.32},{"x":-0.0917,"y":17.87},{"x":-0.0875,"y":15.46},{"x":-0.0818,"y":12.08},{"x":-0.0762,"y":8.7},{"x":-0.0719,"y":6.28},{"x":-0.0677,"y":4.83},{"x":-0.062,"y":3.38},{"x":-0.0564,"y":1.45},{"x":-0.0535,"y":0.68},{"x":-0.0472,"y":0.48}]
},
"vconcat":[
{"hconcat":[
{"width":406,"height":76,"title":"Trace of beta6[2]","data":{"name":"t1"},"transform":[{"fold":["a","b","c"],"as":["ch","v"]}],"mark":{"type":"line","clip":true},
"encoding":{"x":{"field":"i","type":"quantitative","scale":{"domain":[640.4,1359.6],"nice":false,"zero":false},"axis":{"values":[700,800,900,1000,1100,1200,1300],"format":"d","title":"Iterations","titleX":192}},
"y":{"field":"v","type":"quantitative","scale":{"domain":[-0.0665,0],"nice":false,"zero":false},"axis":{"values":[-0.06,-0.05,-0.04,-0.03,-0.02,-0.01],"format":".2f","labelExpr":"datum.value==-0.01||datum.value==-0.06?datum.label:''","title":null,"minExtent":100,"maxExtent":100}},
"color":{"field":"ch","type":"nominal","scale":{"domain":["a","b","c"],"range":["#000000","#606060","#a6a6a6"]},"legend":null},
"strokeWidth":{"field":"ch","type":"ordinal","scale":{"domain":["a","b","c"],"range":[1.5,1.2,1.2]},"legend":null},
"strokeDash":{"field":"ch","type":"nominal","scale":{"domain":["a","b","c"],"range":[[1,0],[5,2],[3,2]]},"legend":null}}},
{"width":406,"height":76,"title":"Density of beta6[2]","layer":[
{"data":{"values":[{}]},"mark":{"type":"rule","color":"#c4c4c4","strokeWidth":2},"encoding":{"y":{"datum":0,"type":"quantitative","scale":{"domain":[-1.77,39.3],"nice":false,"zero":false},"axis":{"values":[0,10,20,30],"labelExpr":"datum.value==0||datum.value==20?datum.label:''","title":null,"minExtent":46,"maxExtent":46}}}},
{"data":{"values":[{"lo":-0.0486,"hi":-0.0148}]},"mark":{"type":"rule","color":"#000000","strokeWidth":2},"encoding":{"x":{"field":"lo","type":"quantitative","scale":{"domain":[-0.0736,0.0073],"nice":false,"zero":false},"axis":{"values":[-0.06,-0.04,-0.02,0],"format":".2f","title":"N = 667\u00a0\u00a0Bandwidth = 0.002378","titleX":210,"titleFontSize":20}},"x2":{"field":"hi"},"y":{"datum":0,"type":"quantitative","scale":{"domain":[-1.77,39.3],"nice":false,"zero":false},"axis":{"values":[0,10,20,30],"labelExpr":"datum.value==0||datum.value==20?datum.label:''","title":null,"minExtent":46,"maxExtent":46}}}},
{"data":{"values":[{"t":-0.0586},{"t":-0.0576},{"t":-0.0562},{"t":-0.0548},{"t":-0.0538},{"t":-0.0527},{"t":-0.0517},{"t":-0.0507},{"t":-0.0496},{"t":-0.0141},{"t":-0.0131},{"t":-0.0121},{"t":-0.0103},{"t":-0.009},{"t":-0.0079},{"t":-0.0069},{"t":-0.0059},{"t":-0.0048}]},"mark":{"type":"tick","orient":"vertical","size":3,"thickness":1.5,"color":"#000000"},"encoding":{"x":{"field":"t","type":"quantitative","scale":{"domain":[-0.0736,0.0073],"nice":false,"zero":false},"axis":{"values":[-0.06,-0.04,-0.02,0],"format":".2f","title":"N = 667\u00a0\u00a0Bandwidth = 0.002378","titleX":210,"titleFontSize":20}},"y":{"datum":0,"type":"quantitative","scale":{"domain":[-1.77,39.3],"nice":false,"zero":false},"axis":{"values":[0,10,20,30],"labelExpr":"datum.value==0||datum.value==20?datum.label:''","title":null,"minExtent":46,"maxExtent":46}}}},
{"data":{"name":"d1"},"mark":{"type":"line","color":"#000000","strokeWidth":1.6,"interpolate":"monotone"},"encoding":{"x":{"field":"x","type":"quantitative","scale":{"domain":[-0.0736,0.0073],"nice":false,"zero":false},"axis":{"values":[-0.06,-0.04,-0.02,0],"format":".2f","title":"N = 667\u00a0\u00a0Bandwidth = 0.002378","titleX":210,"titleFontSize":20}},"y":{"field":"y","type":"quantitative","scale":{"domain":[-1.77,39.3],"nice":false,"zero":false},"axis":{"values":[0,10,20,30],"labelExpr":"datum.value==0||datum.value==20?datum.label:''","title":null,"minExtent":46,"maxExtent":46}}}}
]}
],"spacing":80},
{"hconcat":[
{"width":406,"height":76,"title":"Trace of beta6[3]","data":{"name":"t2"},"transform":[{"fold":["a","b","c"],"as":["ch","v"]}],"mark":{"type":"line","clip":true},
"encoding":{"x":{"field":"i","type":"quantitative","scale":{"domain":[640.4,1359.6],"nice":false,"zero":false},"axis":{"values":[700,800,900,1000,1100,1200,1300],"format":"d","title":"Iterations","titleX":192}},
"y":{"field":"v","type":"quantitative","scale":{"domain":[-0.151,0.033],"nice":false,"zero":false},"axis":{"values":[-0.15,-0.1,-0.05,0],"format":".2f","labelExpr":"datum.value==0||datum.value==-0.15?datum.label:''","title":null,"minExtent":100,"maxExtent":100}},
"color":{"field":"ch","type":"nominal","scale":{"domain":["a","b","c"],"range":["#000000","#606060","#a6a6a6"]},"legend":null},
"strokeWidth":{"field":"ch","type":"ordinal","scale":{"domain":["a","b","c"],"range":[1.5,1.2,1.2]},"legend":null},
"strokeDash":{"field":"ch","type":"nominal","scale":{"domain":["a","b","c"],"range":[[1,0],[5,2],[3,2]]},"legend":null}}},
{"width":406,"height":76,"title":"Density of beta6[2]","layer":[
{"data":{"values":[{}]},"mark":{"type":"rule","color":"#c4c4c4","strokeWidth":2},"encoding":{"y":{"datum":0,"type":"quantitative","scale":{"domain":[-0.8,16.23],"nice":false,"zero":false},"axis":{"values":[0,5,10,15],"labelExpr":"datum.value==10?'':datum.label","title":null,"minExtent":46,"maxExtent":46}}}},
{"data":{"values":[{"lo":-0.128,"hi":-0.008}]},"mark":{"type":"rule","color":"#000000","strokeWidth":2},"encoding":{"x":{"field":"lo","type":"quantitative","scale":{"domain":[-0.1699,0.047],"nice":false,"zero":false},"axis":{"values":[-0.15,-0.1,-0.05,0],"format":".2f","title":"N = 667\u00a0\u00a0Bandwidth = 0.005859","titleX":210,"titleFontSize":20}},"x2":{"field":"hi"},"y":{"datum":0,"type":"quantitative","scale":{"domain":[-0.8,16.23],"nice":false,"zero":false},"axis":{"values":[0,5,10,15],"labelExpr":"datum.value==10?'':datum.label","title":null,"minExtent":46,"maxExtent":46}}}},
{"data":{"values":[{"t":-0.144},{"t":-0.14},{"t":-0.135},{"t":-0.132},{"t":-0.004},{"t":0.0},{"t":0.004},{"t":0.007},{"t":0.01},{"t":0.013}]},"mark":{"type":"tick","orient":"vertical","size":3,"thickness":1.5,"color":"#000000"},"encoding":{"x":{"field":"t","type":"quantitative","scale":{"domain":[-0.1699,0.047],"nice":false,"zero":false},"axis":{"values":[-0.15,-0.1,-0.05,0],"format":".2f","title":"N = 667\u00a0\u00a0Bandwidth = 0.005859","titleX":210,"titleFontSize":20}},"y":{"datum":0,"type":"quantitative","scale":{"domain":[-0.8,16.23],"nice":false,"zero":false},"axis":{"values":[0,5,10,15],"labelExpr":"datum.value==10?'':datum.label","title":null,"minExtent":46,"maxExtent":46}}}},
{"data":{"name":"d2"},"mark":{"type":"line","color":"#000000","strokeWidth":1.6,"interpolate":"monotone"},"encoding":{"x":{"field":"x","type":"quantitative","scale":{"domain":[-0.1699,0.047],"nice":false,"zero":false},"axis":{"values":[-0.15,-0.1,-0.05,0],"format":".2f","title":"N = 667\u00a0\u00a0Bandwidth = 0.005859","titleX":210,"titleFontSize":20}},"y":{"field":"y","type":"quantitative","scale":{"domain":[-0.8,16.23],"nice":false,"zero":false},"axis":{"values":[0,5,10,15],"labelExpr":"datum.value==10?'':datum.label","title":null,"minExtent":46,"maxExtent":46}}}}
]}
],"spacing":80},
{"hconcat":[
{"width":406,"height":76,"title":"Trace of beta6[4]","data":{"name":"t3"},"transform":[{"fold":["a","b","c"],"as":["ch","v"]}],"mark":{"type":"line","clip":true},
"encoding":{"x":{"field":"i","type":"quantitative","scale":{"domain":[640.4,1359.6],"nice":false,"zero":false},"axis":{"values":[700,800,900,1000,1100,1200,1300],"format":"d","title":"Iterations","titleX":192}},
"y":{"field":"v","type":"quantitative","scale":{"domain":[-0.1685,0.0398],"nice":false,"zero":false},"axis":{"values":[-0.15,-0.1,-0.05,0],"format":".2f","labelExpr":"datum.value==0||datum.value==-0.15?datum.label:''","title":null,"minExtent":100,"maxExtent":100}},
"color":{"field":"ch","type":"nominal","scale":{"domain":["a","b","c"],"range":["#000000","#606060","#a6a6a6"]},"legend":null},
"strokeWidth":{"field":"ch","type":"ordinal","scale":{"domain":["a","b","c"],"range":[1.5,1.2,1.2]},"legend":null},
"strokeDash":{"field":"ch","type":"nominal","scale":{"domain":["a","b","c"],"range":[[1,0],[5,2],[3,2]]},"legend":null}}},
{"width":406,"height":76,"title":"Density of beta6[4]","layer":[
{"data":{"values":[{}]},"mark":{"type":"rule","color":"#c4c4c4","strokeWidth":2},"encoding":{"y":{"datum":0,"type":"quantitative","scale":{"domain":[-0.2,15.0],"nice":false,"zero":false},"axis":{"values":[0,2,4,6,8,10,12,14],"labelExpr":"datum.value==0||datum.value==6||datum.value==12?datum.label:''","title":null,"minExtent":46,"maxExtent":46}}}},
{"data":{"values":[{"lo":-0.124,"hi":0.017}]},"mark":{"type":"rule","color":"#000000","strokeWidth":4},"encoding":{"x":{"field":"lo","type":"quantitative","scale":{"domain":[-0.1937,0.0586],"nice":false,"zero":false},"axis":{"values":[-0.15,-0.1,-0.05,0,0.05],"format":".2f","title":"N = 667\u00a0\u00a0Bandwidth = 0.006364","titleX":210,"titleFontSize":20}},"x2":{"field":"hi"},"y":{"datum":0,"type":"quantitative","scale":{"domain":[-0.2,15.0],"nice":false,"zero":false},"axis":{"values":[0,2,4,6,8,10,12,14],"labelExpr":"datum.value==0||datum.value==6||datum.value==12?datum.label:''","title":null,"minExtent":46,"maxExtent":46}}}},
{"data":{"values":[{"t":-0.135},{"t":-0.131},{"t":-0.128},{"t":-0.126},{"t":0.019},{"t":0.021},{"t":0.024},{"t":0.027}]},"mark":{"type":"tick","orient":"vertical","size":6,"thickness":1.5,"color":"#000000"},"encoding":{"x":{"field":"t","type":"quantitative","scale":{"domain":[-0.1937,0.0586],"nice":false,"zero":false},"axis":{"values":[-0.15,-0.1,-0.05,0,0.05],"format":".2f","title":"N = 667\u00a0\u00a0Bandwidth = 0.006364","titleX":210,"titleFontSize":20}},"y":{"datum":0,"type":"quantitative","scale":{"domain":[-0.2,15.0],"nice":false,"zero":false},"axis":{"values":[0,2,4,6,8,10,12,14],"labelExpr":"datum.value==0||datum.value==6||datum.value==12?datum.label:''","title":null,"minExtent":46,"maxExtent":46}}}},
{"data":{"name":"d3"},"mark":{"type":"line","color":"#000000","strokeWidth":1.6,"interpolate":"monotone"},"encoding":{"x":{"field":"x","type":"quantitative","scale":{"domain":[-0.1937,0.0586],"nice":false,"zero":false},"axis":{"values":[-0.15,-0.1,-0.05,0,0.05],"format":".2f","title":"N = 667\u00a0\u00a0Bandwidth = 0.006364","titleX":210,"titleFontSize":20}},"y":{"field":"y","type":"quantitative","scale":{"domain":[-0.2,15.0],"nice":false,"zero":false},"axis":{"values":[0,2,4,6,8,10,12,14],"labelExpr":"datum.value==0||datum.value==6||datum.value==12?datum.label:''","title":null,"minExtent":46,"maxExtent":46}}}}
]}
],"spacing":80},
{"hconcat":[
{"width":406,"height":76,"title":"Trace of beta7[2]","data":{"name":"t4"},"transform":[{"fold":["a","b","c"],"as":["ch","v"]}],"mark":{"type":"line","clip":true},
"encoding":{"x":{"field":"i","type":"quantitative","scale":{"domain":[640.4,1359.6],"nice":false,"zero":false},"axis":{"values":[700,800,900,1000,1100,1200,1300],"format":"d","title":"Iterations","titleX":192}},
"y":{"field":"v","type":"quantitative","scale":{"domain":[-0.093,0.304],"nice":false,"zero":false},"axis":{"values":[-0.05,0.05,0.15,0.25],"format":".2f","labelExpr":"datum.value==0.15||datum.value==-0.05?datum.label:''","title":null,"minExtent":100,"maxExtent":100}},
"color":{"field":"ch","type":"nominal","scale":{"domain":["a","b","c"],"range":["#000000","#606060","#a6a6a6"]},"legend":null},
"strokeWidth":{"field":"ch","type":"ordinal","scale":{"domain":["a","b","c"],"range":[1.5,1.2,1.2]},"legend":null},
"strokeDash":{"field":"ch","type":"nominal","scale":{"domain":["a","b","c"],"range":[[1,0],[5,2],[3,2]]},"legend":null}}},
{"width":406,"height":76,"title":"Density of beta7[2]","layer":[
{"data":{"values":[{}]},"mark":{"type":"rule","color":"#c4c4c4","strokeWidth":2},"encoding":{"y":{"datum":0,"type":"quantitative","scale":{"domain":[-0.29,7.98],"nice":false,"zero":false},"axis":{"values":[0,2,4,6],"labelExpr":"datum.value==0||datum.value==4?datum.label:''","title":null,"minExtent":46,"maxExtent":46}}}},
{"data":{"values":[{"lo":0.03,"hi":0.285}]},"mark":{"type":"rule","color":"#000000","strokeWidth":3},"encoding":{"x":{"field":"lo","type":"quantitative","scale":{"domain":[-0.0831,0.39],"nice":false,"zero":false},"axis":{"values":[0,0.1,0.2,0.3],"format":".1f","title":"N = 667\u00a0\u00a0Bandwidth = 0.01187","titleX":210,"titleFontSize":20}},"x2":{"field":"hi"},"y":{"datum":0,"type":"quantitative","scale":{"domain":[-0.29,7.98],"nice":false,"zero":false},"axis":{"values":[0,2,4,6],"labelExpr":"datum.value==0||datum.value==4?datum.label:''","title":null,"minExtent":46,"maxExtent":46}}}},
{"data":{"values":[{"t":-0.03},{"t":0.005},{"t":0.012},{"t":0.018},{"t":0.022},{"t":0.026},{"t":0.29},{"t":0.295},{"t":0.3},{"t":0.337}]},"mark":{"type":"tick","orient":"vertical","size":5,"thickness":1.5,"color":"#000000"},"encoding":{"x":{"field":"t","type":"quantitative","scale":{"domain":[-0.0831,0.39],"nice":false,"zero":false},"axis":{"values":[0,0.1,0.2,0.3],"format":".1f","title":"N = 667\u00a0\u00a0Bandwidth = 0.01187","titleX":210,"titleFontSize":20}},"y":{"datum":0,"type":"quantitative","scale":{"domain":[-0.29,7.98],"nice":false,"zero":false},"axis":{"values":[0,2,4,6],"labelExpr":"datum.value==0||datum.value==4?datum.label:''","title":null,"minExtent":46,"maxExtent":46}}}},
{"data":{"name":"d4"},"mark":{"type":"line","color":"#000000","strokeWidth":1.6,"interpolate":"monotone"},"encoding":{"x":{"field":"x","type":"quantitative","scale":{"domain":[-0.0831,0.39],"nice":false,"zero":false},"axis":{"values":[0,0.1,0.2,0.3],"format":".1f","title":"N = 667\u00a0\u00a0Bandwidth = 0.01187","titleX":210,"titleFontSize":20}},"y":{"field":"y","type":"quantitative","scale":{"domain":[-0.29,7.98],"nice":false,"zero":false},"axis":{"values":[0,2,4,6],"labelExpr":"datum.value==0||datum.value==4?datum.label:''","title":null,"minExtent":46,"maxExtent":46}}}}
]}
],"spacing":80},
{"hconcat":[
{"width":406,"height":76,"title":"Trace of beta7[3]","data":{"name":"t5"},"transform":[{"fold":["a","b","c"],"as":["ch","v"]}],"mark":{"type":"line","clip":true},
"encoding":{"x":{"field":"i","type":"quantitative","scale":{"domain":[640.4,1359.6],"nice":false,"zero":false},"axis":{"values":[700,800,900,1000,1100,1200,1300],"format":"d","title":"Iterations","titleX":192}},
"y":{"field":"v","type":"quantitative","scale":{"domain":[-0.084,0.204],"nice":false,"zero":false},"axis":{"values":[-0.05,0,0.05,0.1,0.15,0.2],"format":".2f","labelExpr":"datum.value==0.15||datum.value==-0.05?datum.label:''","title":null,"minExtent":100,"maxExtent":100}},
"color":{"field":"ch","type":"nominal","scale":{"domain":["a","b","c"],"range":["#000000","#606060","#a6a6a6"]},"legend":null},
"strokeWidth":{"field":"ch","type":"ordinal","scale":{"domain":["a","b","c"],"range":[1.5,1.2,1.2]},"legend":null},
"strokeDash":{"field":"ch","type":"nominal","scale":{"domain":["a","b","c"],"range":[[1,0],[5,2],[3,2]]},"legend":null}}},
{"width":406,"height":76,"title":"Density of beta7[3]","layer":[
{"data":{"values":[{}]},"mark":{"type":"rule","color":"#c4c4c4","strokeWidth":2},"encoding":{"y":{"datum":0,"type":"quantitative","scale":{"domain":[-0.28,10.6],"nice":false,"zero":false},"axis":{"values":[0,2,4,6,8,10],"labelExpr":"datum.value==0||datum.value==4||datum.value==8?datum.label:''","title":null,"minExtent":46,"maxExtent":46}}}},
{"data":{"values":[{"lo":-0.035,"hi":0.15}]},"mark":{"type":"rule","color":"#000000","strokeWidth":2},"encoding":{"x":{"field":"lo","type":"quantitative","scale":{"domain":[-0.1108,0.2307],"nice":false,"zero":false},"axis":{"values":[-0.1,-0.05,0,0.05,0.1,0.15,0.2],"format":".2f","title":"N = 667\u00a0\u00a0Bandwidth = 0.008861","titleX":210,"titleFontSize":20}},"x2":{"field":"hi"},"y":{"datum":0,"type":"quantitative","scale":{"domain":[-0.28,10.6],"nice":false,"zero":false},"axis":{"values":[0,2,4,6,8,10],"labelExpr":"datum.value==0||datum.value==4||datum.value==8?datum.label:''","title":null,"minExtent":46,"maxExtent":46}}}},
{"data":{"values":[{"t":-0.048},{"t":-0.042},{"t":0.155},{"t":0.16},{"t":0.163},{"t":0.168}]},"mark":{"type":"tick","orient":"vertical","size":3,"thickness":1.5,"color":"#000000"},"encoding":{"x":{"field":"t","type":"quantitative","scale":{"domain":[-0.1108,0.2307],"nice":false,"zero":false},"axis":{"values":[-0.1,-0.05,0,0.05,0.1,0.15,0.2],"format":".2f","title":"N = 667\u00a0\u00a0Bandwidth = 0.008861","titleX":210,"titleFontSize":20}},"y":{"datum":0,"type":"quantitative","scale":{"domain":[-0.28,10.6],"nice":false,"zero":false},"axis":{"values":[0,2,4,6,8,10],"labelExpr":"datum.value==0||datum.value==4||datum.value==8?datum.label:''","title":null,"minExtent":46,"maxExtent":46}}}},
{"data":{"name":"d5"},"mark":{"type":"line","color":"#000000","strokeWidth":1.6,"interpolate":"monotone"},"encoding":{"x":{"field":"x","type":"quantitative","scale":{"domain":[-0.1108,0.2307],"nice":false,"zero":false},"axis":{"values":[-0.1,-0.05,0,0.05,0.1,0.15,0.2],"format":".2f","title":"N = 667\u00a0\u00a0Bandwidth = 0.008861","titleX":210,"titleFontSize":20}},"y":{"field":"y","type":"quantitative","scale":{"domain":[-0.28,10.6],"nice":false,"zero":false},"axis":{"values":[0,2,4,6,8,10],"labelExpr":"datum.value==0||datum.value==4||datum.value==8?datum.label:''","title":null,"minExtent":46,"maxExtent":46}}}}
]}
],"spacing":80},
{"hconcat":[
{"width":406,"height":76,"title":"Trace of beta7[4]","data":{"name":"t6"},"transform":[{"fold":["a","b","c"],"as":["ch","v"]}],"mark":{"type":"line","clip":true},
"encoding":{"x":{"field":"i","type":"quantitative","scale":{"domain":[640.4,1359.6],"nice":false,"zero":false},"axis":{"values":[700,800,900,1000,1100,1200,1300],"format":"d","title":"Iterations","titleX":192}},
"y":{"field":"v","type":"quantitative","scale":{"domain":[-0.17,-0.0347],"nice":false,"zero":false},"axis":{"values":[-0.16,-0.14,-0.12,-0.1,-0.08,-0.06,-0.04],"format":".2f","labelExpr":"datum.value==-0.06||datum.value==-0.16?datum.label:''","title":null,"minExtent":100,"maxExtent":100}},
"color":{"field":"ch","type":"nominal","scale":{"domain":["a","b","c"],"range":["#000000","#606060","#a6a6a6"]},"legend":null},
"strokeWidth":{"field":"ch","type":"ordinal","scale":{"domain":["a","b","c"],"range":[1.5,1.2,1.2]},"legend":null},
"strokeDash":{"field":"ch","type":"nominal","scale":{"domain":["a","b","c"],"range":[[1,0],[5,2],[3,2]]},"legend":null}}},
{"width":406,"height":76,"title":"Density of beta7[4]","layer":[
{"data":{"values":[{}]},"mark":{"type":"rule","color":"#c4c4c4","strokeWidth":2},"encoding":{"y":{"datum":0,"type":"quantitative","scale":{"domain":[-0.97,21.5],"nice":false,"zero":false},"axis":{"values":[0,5,10,15,20],"labelExpr":"datum.value==0?'0':datum.value==5?'5':datum.value==20?'15':''","title":null,"minExtent":46,"maxExtent":46}}}},
{"data":{"values":[{"lo":-0.15,"hi":-0.054}]},"mark":{"type":"rule","color":"#000000","strokeWidth":2},"encoding":{"x":{"field":"lo","type":"quantitative","scale":{"domain":[-0.1868,-0.021],"nice":false,"zero":false},"axis":{"values":[-0.15,-0.1,-0.05],"format":".2f","title":"N = 667\u00a0\u00a0Bandwidth = 0.004376","titleX":210,"titleFontSize":20}},"x2":{"field":"hi"},"y":{"datum":0,"type":"quantitative","scale":{"domain":[-0.97,21.5],"nice":false,"zero":false},"axis":{"values":[0,5,10,15,20],"labelExpr":"datum.value==0?'0':datum.value==5?'5':datum.value==20?'15':''","title":null,"minExtent":46,"maxExtent":46}}}},
{"data":{"values":[{"t":-0.1667},{"t":-0.16},{"t":-0.156},{"t":-0.051},{"t":-0.048},{"t":-0.0415}]},"mark":{"type":"tick","orient":"vertical","size":3,"thickness":1.5,"color":"#000000"},"encoding":{"x":{"field":"t","type":"quantitative","scale":{"domain":[-0.1868,-0.021],"nice":false,"zero":false},"axis":{"values":[-0.15,-0.1,-0.05],"format":".2f","title":"N = 667\u00a0\u00a0Bandwidth = 0.004376","titleX":210,"titleFontSize":20}},"y":{"datum":0,"type":"quantitative","scale":{"domain":[-0.97,21.5],"nice":false,"zero":false},"axis":{"values":[0,5,10,15,20],"labelExpr":"datum.value==0?'0':datum.value==5?'5':datum.value==20?'15':''","title":null,"minExtent":46,"maxExtent":46}}}},
{"data":{"name":"d6"},"mark":{"type":"line","color":"#000000","strokeWidth":1.6,"interpolate":"monotone"},"encoding":{"x":{"field":"x","type":"quantitative","scale":{"domain":[-0.1868,-0.021],"nice":false,"zero":false},"axis":{"values":[-0.15,-0.1,-0.05],"format":".2f","title":"N = 667\u00a0\u00a0Bandwidth = 0.004376","titleX":210,"titleFontSize":20}},"y":{"field":"y","type":"quantitative","scale":{"domain":[-0.97,21.5],"nice":false,"zero":false},"axis":{"values":[0,5,10,15,20],"labelExpr":"datum.value==0?'0':datum.value==5?'5':datum.value==20?'15':''","title":null,"minExtent":46,"maxExtent":46}}}}
]}
],"spacing":80}
],"spacing":46}
